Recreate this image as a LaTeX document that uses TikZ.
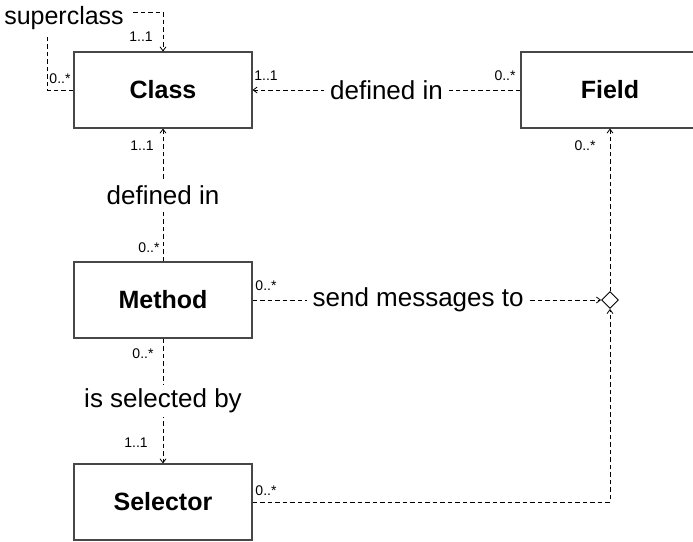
\documentclass[tikz,border=0pt]{standalone}
\usepackage{fontspec}
\setmainfont{Liberation Sans}
\usetikzlibrary{arrows.meta,shapes.geometric}
\begin{document}
\begin{tikzpicture}[x=1pt,y=-1pt,
  box/.style={draw=black!72,line width=1.1pt,minimum width=178pt,minimum height=76pt,inner sep=0pt,font=\fontsize{25}{27}\selectfont\bfseries},
  conn/.style={draw=black,line width=0.8pt,dash pattern=on 4.5pt off 3pt,-{Straight Barb[length=4pt,width=6pt]}},
  plain/.style={draw=black,line width=0.8pt,dash pattern=on 4.5pt off 3pt},
  lbl/.style={fill=white,inner xsep=6pt,inner ysep=4pt,font=\fontsize{26}{28}\selectfont},
  mult/.style={inner sep=0pt,font=\fontsize{14}{15}\selectfont},
  dia/.style={diamond,draw=black,line width=0.9pt,minimum size=17pt,inner sep=0pt,fill=white}]
\useasboundingbox (0,0) rectangle (693,541);
\node[box] (Class) at (163,90) {Class};
\node[box] (Field) at (610,90) {Field};
\node[box] (Method) at (163,300) {Method};
\node[box] (Selector) at (163,502) {Selector};
\node[dia] (D) at (610,300) {};
% superclass loop
\coordinate (scl) at (47,37);
\coordinate (scr) at (133,12);
\draw[plain] (Class.west) -| (scl);
\draw[conn] (scr) -| (Class.north);
\node[inner sep=0pt,font=\fontsize{25}{27}\selectfont] (sc) at (64,18) {superclass};
\node[mult] at (141,37) {1..1};
\node[mult] at (60,79) {0..*};
% Field -> Class
\draw[conn] (Field.west) -- node[lbl] {defined in} (Class.east);
\node[mult] at (266,76) {1..1};
\node[mult] at (505,76) {0..*};
% Method -> Class
\draw[conn] (Method.north) -- node[lbl] {defined in} (Class.south);
\node[mult] at (142,146) {1..1};
\node[mult] at (149,248) {0..*};
% Method -> Selector
\draw[conn] (Method.south) -- node[lbl] {is selected by} (Selector.north);
\node[mult] at (143,354) {0..*};
\node[mult] at (136,443) {1..1};
% Method -> diamond
\draw[conn] (Method.east) -- node[lbl,pos=0.475] {send messages to} (D.west);
\node[mult] at (266,286) {0..*};
% diamond -> Field
\draw[conn] (D.north) -- (Field.south);
\node[mult] at (585,146) {0..*};
% Selector -> diamond
\draw[conn] (Selector.east) -| (D.south);
\node[mult] at (266,491) {0..*};
\end{tikzpicture}
\end{document}
